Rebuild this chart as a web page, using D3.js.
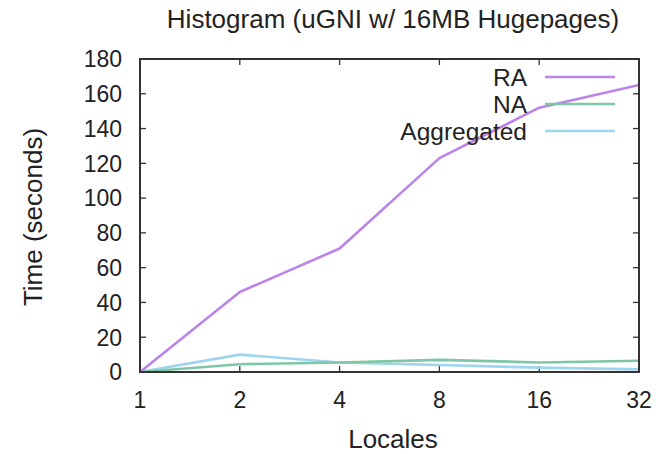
<!DOCTYPE html>
<html>
<head>
<meta charset="utf-8">
<script src="https://cdn.jsdelivr.net/npm/d3@7"></script>
<style>
  body { margin: 0; background: #fff; }
  svg text { font-family: "Liberation Sans", Arial, sans-serif; fill: #222; }
</style>
</head>
<body>
<svg id="chart" width="667" height="454"></svg>
<script>
const locales = [1, 2, 4, 8, 16, 32];
const yTicks = [0, 20, 40, 60, 80, 100, 120, 140, 160, 180];
const raValues = [0, 46, 71, 123, 152, 165];
const naValues = [0, 4.5, 5.5, 7, 5.5, 6.5];
const aggValues = [0, 10, 5.5, 4, 2.5, 1.5];
const seriesNames = ["RA", "NA", "Aggregated"];
const seriesColors = ["#bb84ea", "#7fc6a6", "#9dd4ee"];

const svg = d3.select("#chart");
const plotLeft = 140, plotRight = 639, plotTop = 59, plotBottom = 372;

const x = d3.scaleLog().base(2).domain([1, 32]).range([plotLeft, plotRight]);
const y = d3.scaleLinear().domain([0, 180]).range([plotBottom, plotTop]);

// title
svg.append("text")
    .attr("x", 393)
    .attr("y", 28)
    .attr("text-anchor", "middle")
    .style("font-size", "26px")
    .text("Histogram (uGNI w/ 16MB Hugepages)");

// y tick labels
svg.selectAll("text.ytick")
    .data(yTicks)
    .enter()
    .append("text")
    .attr("class", "ytick")
    .attr("x", 122)
    .attr("y", (d) => y(d))
    .attr("dy", "0.36em")
    .attr("text-anchor", "end")
    .style("font-size", "23px")
    .text((d) => d);

// x tick labels
svg.selectAll("text.xtick")
    .data(locales)
    .enter()
    .append("text")
    .attr("class", "xtick")
    .attr("x", (d) => x(d))
    .attr("y", 408)
    .attr("text-anchor", "middle")
    .style("font-size", "23px")
    .text((d) => d);

// axis labels
svg.append("text")
    .attr("x", 393)
    .attr("y", 448)
    .attr("text-anchor", "middle")
    .style("font-size", "26px")
    .text("Locales");

svg.append("text")
    .attr("transform", "translate(42,217) rotate(-90)")
    .attr("text-anchor", "middle")
    .style("font-size", "26px")
    .text("Time (seconds)");

// ticks, mirrored on all sides
const tickLen = 6;
const tickStyle = (sel) => sel.attr("stroke", "#333").attr("stroke-width", 1.3);
yTicks.slice(1, -1).forEach((t) => {
    svg.append("line").attr("x1", plotLeft).attr("x2", plotLeft + tickLen)
        .attr("y1", y(t)).attr("y2", y(t)).call(tickStyle);
    svg.append("line").attr("x1", plotRight).attr("x2", plotRight - tickLen)
        .attr("y1", y(t)).attr("y2", y(t)).call(tickStyle);
});
locales.slice(1, -1).forEach((t) => {
    svg.append("line").attr("x1", x(t)).attr("x2", x(t))
        .attr("y1", plotBottom).attr("y2", plotBottom - tickLen).call(tickStyle);
    svg.append("line").attr("x1", x(t)).attr("x2", x(t))
        .attr("y1", plotTop).attr("y2", plotTop + tickLen).call(tickStyle);
});

// data lines
const allSeries = [raValues, naValues, aggValues];
const line = d3.line()
    .x((d, i) => x(locales[i]))
    .y((d) => y(d));

// draw Aggregated first, RA on top
[2, 1, 0].forEach((k) => {
    svg.append("path")
        .datum(allSeries[k])
        .attr("d", line)
        .attr("fill", "none")
        .attr("stroke", seriesColors[k])
        .attr("stroke-width", 2.6)
        .attr("stroke-linejoin", "round");
});

// frame
svg.append("rect")
    .attr("x", plotLeft)
    .attr("y", plotTop)
    .attr("width", plotRight - plotLeft)
    .attr("height", plotBottom - plotTop)
    .attr("fill", "none")
    .attr("stroke", "#333")
    .attr("stroke-width", 2);

// legend
const legend = svg.selectAll("g.legend")
    .data(seriesNames)
    .enter()
    .append("g")
    .attr("class", "legend")
    .attr("transform", (d, i) => `translate(0,${77 + i * 27})`);

legend.append("text")
    .attr("x", 527)
    .attr("dy", "0.36em")
    .attr("text-anchor", "end")
    .style("font-size", "24.5px")
    .text((d) => d);

legend.append("line")
    .attr("x1", 545)
    .attr("x2", 615)
    .attr("stroke", (d, i) => seriesColors[i])
    .attr("stroke-width", 2.6);
</script>
</body>
</html>
